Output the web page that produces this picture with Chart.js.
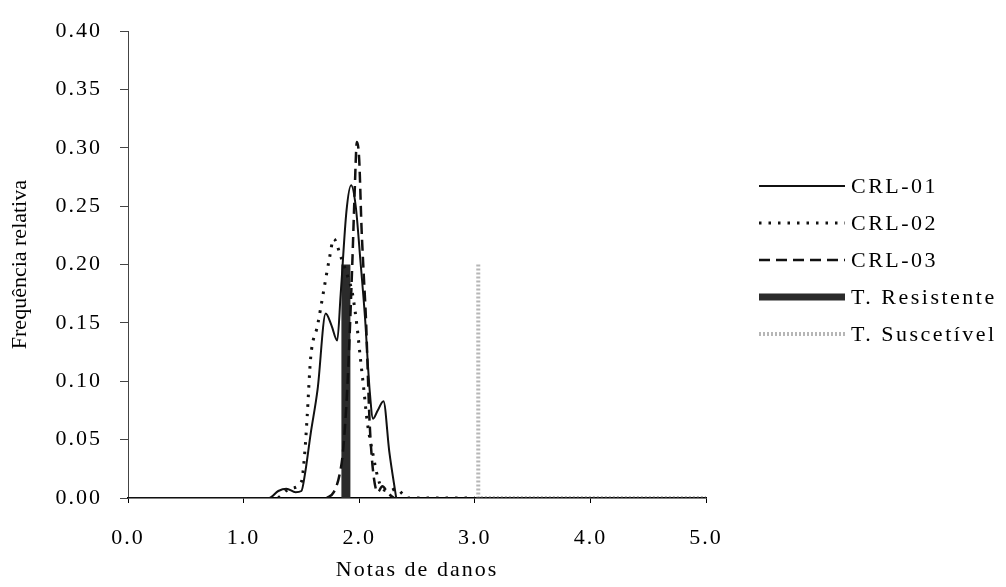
<!DOCTYPE html>
<html>
<head>
<meta charset="utf-8">
<script src="https://cdn.jsdelivr.net/npm/chart.js@4/dist/chart.umd.min.js"></script>
<style>
  html, body { margin: 0; padding: 0; background: #fff; }
  #box { width: 1006px; height: 587px; }
</style>
</head>
<body>
<div id="box"><canvas id="grafico"></canvas></div>
<script>
// notas de danos (x) e frequência relativa (y)
const crl01X = [0, 1.22, 1.3, 1.37, 1.45, 1.5, 1.53, 1.58, 1.64, 1.71, 1.76, 1.81, 1.84, 1.89, 1.93, 1.97, 2.01, 2.05, 2.09, 2.12, 2.16, 2.21, 2.26, 2.32];
const crl01Y = [0, 0, 0.006, 0.008, 0.005, 0.006, 0.02, 0.055, 0.093, 0.158, 0.148, 0.135, 0.175, 0.246, 0.268, 0.25, 0.204, 0.155, 0.093, 0.068, 0.075, 0.083, 0.04, 0];

const crl02X = [1.3, 1.4, 1.5, 1.53, 1.55, 1.58, 1.64, 1.69, 1.74, 1.78, 1.84, 1.9, 1.94, 1.98, 2.01, 2.04, 2.07, 2.12, 2.16, 2.2, 2.26, 2.32, 2.38, 2.42, 3.0];
const crl02Y = [0, 0.008, 0.014, 0.04, 0.07, 0.12, 0.148, 0.176, 0.204, 0.222, 0.207, 0.19, 0.176, 0.148, 0.12, 0.093, 0.065, 0.037, 0.018, 0.008, 0.006, 0.008, 0.003, 0, 0];

const crl03X = [1.72, 1.78, 1.83, 1.86, 1.9, 1.94, 1.96, 1.98, 2.0, 2.02, 2.04, 2.06, 2.07, 2.09, 2.12, 2.16, 2.2, 2.25, 2.3];
const crl03Y = [0, 0.005, 0.02, 0.04, 0.1, 0.2, 0.26, 0.305, 0.29, 0.232, 0.19, 0.15, 0.12, 0.065, 0.023, 0.005, 0.01, 0.004, 0];

const resistX = [1.885, 1.885];
const resistY = [0, 0.2];

const suscX = [3.03, 3.03, 5.0];
const suscY = [0.2, 0, 0];

const xTicks = [0, 1, 2, 3, 4, 5];
const legendas = ['CRL-01', 'CRL-02', 'CRL-03', 'T. Resistente', 'T. Suscetível'];

const fonte = "'Liberation Serif', 'Times New Roman', serif";

function pontos(xs, ys) {
    return xs.map((x, i) => ({ x: x, y: ys[i] }));
}

const estilos = [
    { cor: '#111', largura: 2, traco: [] },
    { cor: '#111', largura: 3, traco: [2.5, 7] },
    { cor: '#111', largura: 2.5, traco: [11, 6] },
    { cor: '#2b2b2b', largura: 9, traco: [] },
    { cor: 'rgba(110,110,110,0.5)', largura: 4, traco: [2, 2] }
];

// legenda e título do eixo y desenhados à mão, como no original
const legendaPlugin = {
    id: 'legendaManual',
    afterDraw(chart) {
        const ctx = chart.ctx;
        ctx.save();
        ctx.font = '22px ' + fonte;
        ctx.letterSpacing = '2.5px';
        ctx.textBaseline = 'middle';
        ctx.fillStyle = '#000';
        legendas.forEach((txt, i) => {
            const y = 186 + i * 37;
            const e = estilos[i];
            ctx.beginPath();
            ctx.strokeStyle = e.cor;
            ctx.lineWidth = i === 3 ? 7 : e.largura;
            ctx.setLineDash(e.traco);
            ctx.moveTo(759, y);
            ctx.lineTo(845, y);
            ctx.stroke();
            ctx.setLineDash([]);
            ctx.fillText(txt, 851, y + 1);
        });
        ctx.letterSpacing = '0px';
        ctx.translate(20, (chart.chartArea.top + chart.chartArea.bottom) / 2);
        ctx.rotate(-Math.PI / 2);
        ctx.textAlign = 'center';
        ctx.fillText('Frequência relativa', 0, 0);
        ctx.restore();
    }
};

const espacoPlugin = {
    id: 'espacamento',
    beforeDraw(chart) { chart.ctx.letterSpacing = '2px'; },
    afterDraw(chart) { chart.ctx.letterSpacing = '0px'; }
};

const series = [
    pontos(crl01X, crl01Y),
    pontos(crl02X, crl02Y),
    pontos(crl03X, crl03Y),
    pontos(resistX, resistY),
    pontos(suscX, suscY)
];

new Chart(document.getElementById('grafico').getContext('2d'), {
    type: 'line',
    data: {
        datasets: series.map((d, i) => ({
            label: legendas[i],
            data: d,
            borderColor: estilos[i].cor,
            borderWidth: estilos[i].largura,
            borderDash: estilos[i].traco,
            pointRadius: 0,
            fill: false,
            tension: i < 3 ? 0.4 : 0,
            cubicInterpolationMode: i < 3 ? 'monotone' : 'default'
        }))
    },
    options: {
        responsive: true,
        maintainAspectRatio: false,
        animation: false,
        layout: { padding: { top: 20, right: 300, left: 0, bottom: 0 } },
        plugins: {
            legend: { display: false },
            tooltip: { enabled: false }
        },
        scales: {
            x: {
                type: 'linear',
                min: 0,
                max: 5,
                afterBuildTicks: s => { s.ticks = xTicks.map(v => ({ value: v })); },
                afterFit: s => { s.height = 89; },
                grid: { drawOnChartArea: false, drawTicks: true, tickLength: 5, color: '#000' },
                border: { display: true, color: '#000', width: 1.5 },
                ticks: {
                    color: '#000',
                    padding: 22,
                    font: { family: fonte, size: 22 },
                    callback: v => v.toFixed(1)
                },
                title: {
                    display: true,
                    text: 'Notas de danos',
                    color: '#000',
                    font: { family: fonte, size: 22 },
                    padding: { top: 10 }
                }
            },
            y: {
                min: 0,
                max: 0.4,
                ticks: {
                    stepSize: 0.05,
                    color: '#000',
                    padding: 18,
                    font: { family: fonte, size: 22 },
                    callback: v => v.toFixed(2)
                },
                afterFit: s => { s.width = 128; },
                grid: { drawOnChartArea: false, drawTicks: true, tickLength: 8, color: '#444' },
                border: { display: true, color: '#444', width: 1 },
                title: { display: false }
            }
        }
    },
    plugins: [espacoPlugin, legendaPlugin]
});
</script>
</body>
</html>
